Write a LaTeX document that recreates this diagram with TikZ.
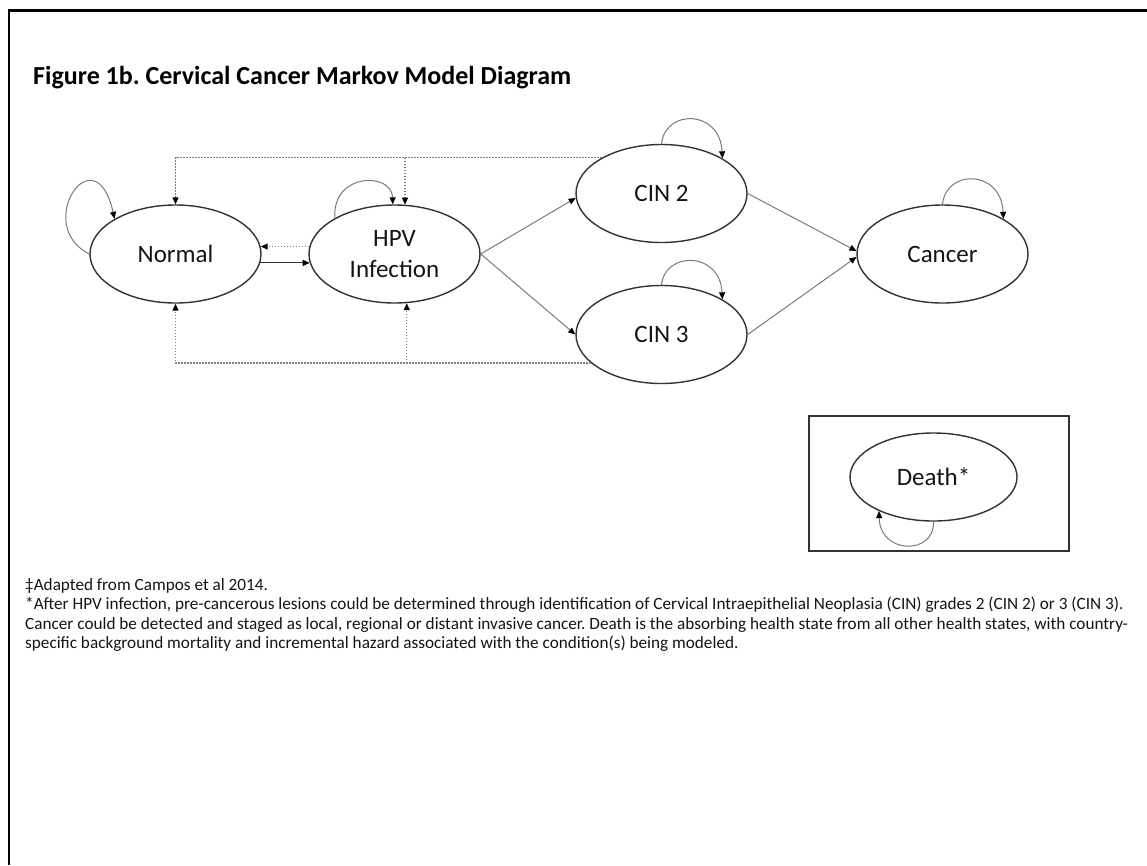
\documentclass[tikz,border=0pt]{standalone}
\usepackage{fontspec}
\setmainfont{Carlito}
\frenchspacing
\usetikzlibrary{shapes.geometric,arrows.meta}
\definecolor{edge}{HTML}{333333}
\definecolor{conn}{HTML}{7A7A7A}
\definecolor{dotc}{HTML}{808080}
\definecolor{txt}{HTML}{141414}
\begin{document}
\begin{tikzpicture}[x=1pt,y=-1pt,
  state/.style={ellipse, draw=edge, line width=1.4pt, minimum width=171pt, minimum height=98pt,
    inner sep=0pt, font=\fontsize{25}{31}\selectfont, text=txt, align=center},
  tip/.style={-{Triangle[length=7pt,width=6pt,color=black]}},
  flow/.style={draw=conn, line width=1pt, tip},
  strong/.style={draw=edge, line width=1.1pt, tip},
  back/.style={draw=dotc, line width=1.3pt, dash pattern=on 1.5pt off 1.5pt, tip},
  selfloop/.style={draw=conn, line width=1pt, tip},
  foot/.style={anchor=base west, inner sep=0pt, font=\fontsize{17.2}{19}\selectfont, text=txt}]
\useasboundingbox (0,0) rectangle (1147,865);
% page border
\draw[black, line width=3pt] (8,10.5) -- (1147,10.5);
\draw[black, line width=2pt] (9,10) -- (9,865);
% title
\node[anchor=base west, inner sep=0pt, font=\fontsize{26}{30}\selectfont\bfseries, text=black] (title) at (33,84)
  {Figure 1b. Cervical Cancer Markov Model Diagram};
% states
\node[state] (Normal) at (175.5,254) {Normal};
\node[state] (HPV) at (394.5,254) {HPV\\Infection};
\node[state] (CIN2) at (661.5,193.5) {CIN 2};
\node[state] (CIN3) at (661.5,334.5) {CIN 3};
\node[state] (Cancer) at (942.5,254) {Cancer};
\node[draw=edge, line width=1.4pt, minimum width=260pt, minimum height=135pt, inner sep=0pt] (DeathBox) at (939,483.5) {};
\node[state, minimum width=167pt, minimum height=88pt] (Death) at (933.5,477) {Death*};
% forward transitions
\draw[flow] (HPV.east) -- (CIN2.183);
\draw[flow] (HPV.east) -- (CIN3.west);
\draw[flow] (CIN2.east) -- (Cancer.178);
\draw[flow] (CIN3.east) -- (Cancer.182);
\draw[strong] (Normal.-6) -- (HPV.186);
% regressions (dotted)
\draw[back] (HPV.175) -- (Normal.5);
\draw[back] (CIN2.149) -| (Normal.north);
\draw[back] (HPV.78 |- CIN2.149) -- (HPV.78);
\draw[back] (CIN3.202) -| (Normal.south);
\draw[back] (HPV.-76 |- CIN3.202) -- (HPV.-76);
% self loops
\draw[selfloop] (Normal.west) .. controls (32,225) and (95,132) .. (Normal.150);
\draw[selfloop] (HPV.149) .. controls (332,172) and (392,172) .. (HPV.92);
\draw[selfloop] (CIN2.north) .. controls (665,109) and (720,109) .. (CIN2.30);
\draw[selfloop] (CIN3.north) .. controls (665,251) and (720,251) .. (CIN3.30);
\draw[selfloop] (Cancer.north) .. controls (946,169) and (1001,169) .. (Cancer.30);
\draw[selfloop] (Death.south) .. controls (935,555) and (880,555) .. (Death.212);
% footnotes
\node[foot] (fn1) at (25,590) {‡Adapted from Campos et al 2014.};
\node[foot] (fn2) at (25,609.5) {*After HPV infection, pre-cancerous lesions could be determined through identification of Cervical Intraepithelial Neoplasia (CIN) grades 2 (CIN 2) or 3 (CIN 3).};
\node[foot] (fn3) at (25,629.2) {Cancer could be detected and staged as local, regional or distant invasive cancer. Death is the absorbing health state from all other health states, with country-};
\node[foot] (fn4) at (25,648.9) {specific background mortality and incremental hazard associated with the condition(s) being modeled.};
\end{tikzpicture}
\end{document}
